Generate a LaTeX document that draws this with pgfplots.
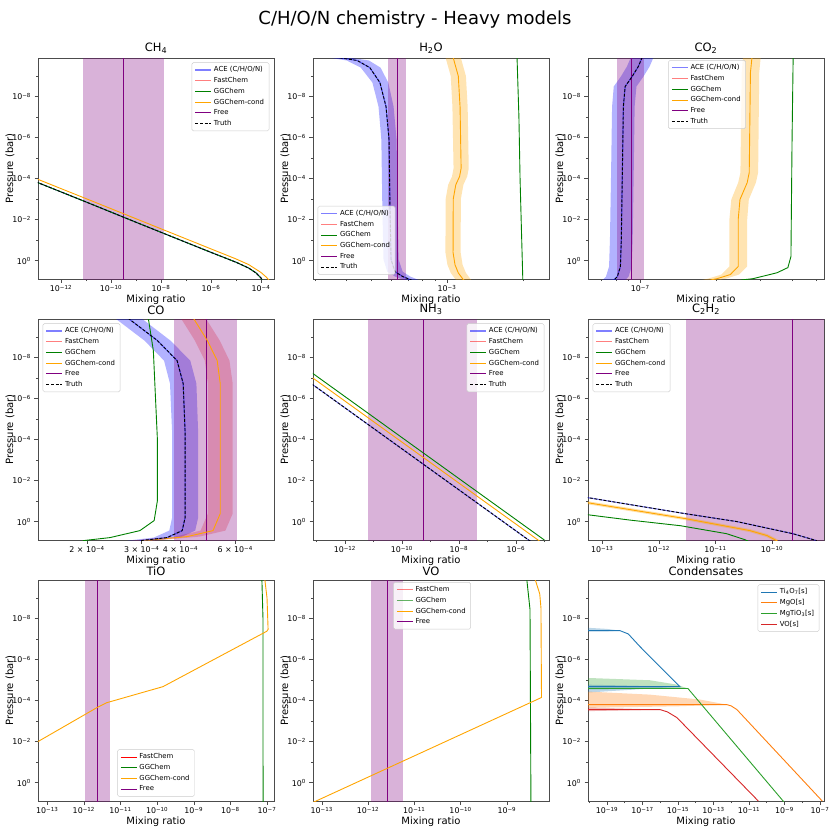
\documentclass[border=0pt]{standalone}
\usepackage{fontspec}
\setmainfont{DejaVu Sans}
\usepackage{pgfplots}
\usepackage{pgfplotstable}
\pgfplotsset{compat=1.18}

\definecolor{mplorange}{HTML}{FFA500}
\definecolor{mplgreen}{HTML}{008000}
\definecolor{mplpurple}{HTML}{800080}
\definecolor{tabblue}{HTML}{1F77B4}
\definecolor{taborange}{HTML}{FF7F0E}
\definecolor{tabgreen}{HTML}{2CA02C}
\definecolor{tabred}{HTML}{D62728}

% log tick labels in the text font: 10^{-n}
\newcommand\logtick{\pgfmathparse{int(round(\tick))}%
  \ifnum\pgfmathresult<0 10\textsuperscript{−\number-\pgfmathresult}\else 10\textsuperscript{\pgfmathresult}\fi}

% common settings for every panel (xmode/ymode are given per axis)
\pgfplotsset{
  width=236pt, height=221pt, scale only axis,
  log basis x=10, log basis y=10,
  y dir=reverse, ymin=1.32e-10, ymax=7.9,
  ytick={1e-8,1e-6,1e-4,1e-2,1},
  minor ytick={1e-9,1e-7,1e-5,1e-3,1e-1},
  xticklabel={\logtick}, yticklabel={\logtick},
  tick label style={font=\fontsize{7.9}{9}\selectfont},
  xticklabel style={yshift=1pt},
  label style={font=\fontsize{9}{10}\selectfont},
  every axis x label/.style={at={(axis description cs:0.5,0)}, anchor=center, yshift=-20.5pt},
  every axis y label/.style={at={(axis description cs:-0.119,0.5)}, anchor=center, rotate=90},
  title style={font=\fontsize{11.5}{13}\selectfont, yshift=-5pt},
  xlabel={Mixing ratio}, ylabel={Pressure (bar)},
  axis line style={black!70, line width=0.6pt},
  tick style={black!70, line width=0.5pt},
  tick align=outside, tick pos=left,
  major tick length=3.5pt, minor tick length=2pt,
  legend cell align=left,
  legend style={font=\fontsize{6.9}{8}\selectfont, draw=black!20,
    rounded corners=1.5pt, fill=white, fill opacity=0.8, text opacity=1},
  legend image code/.code={\draw[#1] (0pt,0pt) -- (16pt,0pt);},
}
\tikzset{
  ace/.style={blue, draw opacity=0.5, line width=1.1pt},
  fast/.style={red, draw opacity=0.5, line width=1.1pt},
  gg/.style={mplgreen, line width=0.9pt},
  ggc/.style={mplorange, line width=0.9pt},
  free/.style={mplpurple, line width=0.9pt},
  truth/.style={black, line width=0.9pt, dash pattern=on 3pt off 1.6pt},
  bandfill/.style={fill=#1, fill opacity=0.3, draw=none},
}

\newcommand\chemlegend{%
  \addlegendimage{ace}\addlegendentry{ACE (C/H/O/N)}
  \addlegendimage{fast}\addlegendentry{FastChem}
  \addlegendimage{gg}\addlegendentry{GGChem}
  \addlegendimage{ggc}\addlegendentry{GGChem-cond}
  \addlegendimage{free}\addlegendentry{Free}
  \addlegendimage{truth}\addlegendentry{Truth}}

% ---- data ----
\pgfplotstableread{
x y
1e-13 1.45e-4
1e-11 1.38e-3
1e-9 1.35e-2
1e-7 0.129
1e-6 0.398
1e-5 1.2
3.16e-5 2.29
6.31e-5 3.98
1e-4 7.08
1.12e-4 8.9
}\chfour
\pgfplotstableread{
x y
3.60e-4 1.2e-10
4.40e-4 1.74e-10
4.94e-4 3.89e-10
5.42e-4 2.09e-9
5.73e-4 3.09e-8
5.89e-4 1.26e-6
5.94e-4 2.34e-3
6.00e-4 0.891
6.22e-4 3.47
6.68e-4 6.03
7.00e-4 7.59
7.24e-4 8.9
}\water
\pgfplotstableread{
x y
1.019e-7 1.2e-10
9.82e-8 3.47e-10
9.29e-8 1.05e-9
8.71e-8 3.24e-9
8.57e-8 3.09e-8
8.49e-8 5.13e-5
8.41e-8 9.55e-2
8.34e-8 1.95
8.11e-8 6.03
7.96e-8 7.59
7.85e-8 8.9
}\cotwo
\pgfplotstableread{
x y
2.71e-4 1.2e-10
3.37e-4 1.48e-9
3.90e-4 1.41e-8
4.08e-4 1.86e-7
4.14e-4 5.13e-5
4.14e-4 0.631
4.05e-4 2.75
3.62e-4 6.03
2.96e-4 8.5
}\co
\pgfplotstableread{
x y
5e-14 1.41e-7
1e-5 28.2
}\nh
\pgfplotstableread{
x y
5e-14 6.46e-2
2.88e-12 0.407
2.40e-11 1.0
2.34e-10 3.89
6.17e-10 8.5
}\ctwo
\pgfplotstableread{
x y
5e-14 0.115
2.88e-12 0.708
4.07e-11 2.75
8.13e-11 4.79
1.12e-10 7.59
1.25e-10 9
}\ctwoorange

\begin{document}
\begin{tikzpicture}
\useasboundingbox (0pt,0pt) rectangle (830pt,-830pt);
\node[font=\fontsize{18}{21}\selectfont] at (415pt,-20pt) {C/H/O/N chemistry - Heavy models};

% ---------------- CH4 ----------------
\begin{axis}[xmode=log, ymode=log, at={(38pt,-58pt)}, anchor=north west, title={CH\textsubscript{4}},
  xmin=1.2e-13, xmax=3.3e-4,
  xtick={1e-12,1e-10,1e-8,1e-6,1e-4}, minor xtick={1e-13,1e-11,1e-9,1e-7,1e-5},
  legend style={at={(0.98,0.98)}, anchor=north east}]
\addplot[bandfill=mplpurple, forget plot] coordinates {(7.6e-12,1e-11)(7.6e-12,100)(1.32e-8,100)(1.32e-8,1e-11)};
\addplot[free, forget plot] coordinates {(3.0e-10,1e-11)(3.0e-10,100)};
\addplot[ggc, forget plot] coordinates {(1e-13,1.0e-4)(1e-11,9.5e-4)(1e-9,9.1e-3)(1e-7,8.7e-2)(1e-6,0.269)(1e-5,0.83)(3.16e-5,1.55)(1e-4,3.8)(1.6e-4,6.3)(2.1e-4,8.9)};
\addplot[ace, forget plot] table {\chfour};
\addplot[gg, forget plot] table {\chfour};
\addplot[truth, forget plot] table {\chfour};
\chemlegend
\end{axis}

% ---------------- H2O ----------------
\begin{axis}[xmode=log, ymode=log, at={(313pt,-58pt)}, anchor=north west, title={H\textsubscript{2}O},
  xmin=2.94e-4, xmax=2.54e-3,
  xtick={1e-3}, minor xtick={3e-4,4e-4,5e-4,6e-4,7e-4,8e-4,9e-4,2e-3},
  legend style={at={(0.02,0.02)}, anchor=south west}]
\addplot[bandfill=blue, forget plot] coordinates {(3.30e-4,1.2e-10)(4.00e-4,1.74e-10)(4.55e-4,3.89e-10)(5.06e-4,2.09e-9)(5.35e-4,3.09e-8)(5.49e-4,1.26e-6)(5.54e-4,2.34e-3)(5.60e-4,0.891)(5.80e-4,3.47)(6.23e-4,6.03)(6.53e-4,7.59)(6.75e-4,8.9)
  (7.76e-4,8.9)(7.50e-4,7.59)(7.16e-4,6.03)(6.67e-4,3.47)(6.43e-4,0.891)(6.37e-4,2.34e-3)(6.31e-4,1.26e-6)(6.14e-4,3.09e-8)(5.85e-4,2.09e-9)(5.45e-4,3.89e-10)(4.90e-4,1.74e-10)(4.00e-4,1.2e-10)};
\addplot[bandfill=mplpurple, forget plot] coordinates {(5.83e-4,1e-11)(5.83e-4,100)(6.87e-4,100)(6.87e-4,1e-11)};
\addplot[free, forget plot] coordinates {(6.34e-4,1e-11)(6.34e-4,100)};
\addplot[bandfill=mplorange, forget plot] coordinates {(0.986e-3,1.2e-10)(1.035e-3,1e-9)(1.051e-3,3.16e-8)(1.062e-3,3.16e-5)(1.047e-3,7.94e-5)(1.011e-3,2e-4)(0.988e-3,1e-3)(0.986e-3,0.398)(1.004e-3,1.585)(1.035e-3,3.98)(1.078e-3,7.94)(1.09e-3,8.9)
  (1.25e-3,8.9)(1.239e-3,7.94)(1.189e-3,3.98)(1.153e-3,1.585)(1.133e-3,0.398)(1.135e-3,1e-3)(1.162e-3,2e-4)(1.203e-3,7.94e-5)(1.220e-3,3.16e-5)(1.208e-3,3.16e-8)(1.189e-3,1e-9)(1.133e-3,1.2e-10)};
\addplot[ggc, forget plot] coordinates {(1.057e-3,1.2e-10)(1.109e-3,1e-9)(1.127e-3,3.16e-8)(1.138e-3,3.16e-5)(1.122e-3,7.94e-5)(1.084e-3,2.0e-4)(1.059e-3,1e-3)(1.057e-3,0.398)(1.076e-3,1.585)(1.109e-3,3.98)(1.156e-3,7.94)(1.17e-3,8.9)};
\addplot[gg, forget plot] coordinates {(1.897e-3,1.2e-10)(1.93e-3,1e-7)(1.95e-3,1e-4)(1.98e-3,0.1)(2.0e-3,8.9)};
\addplot[ace, forget plot] table {\water};
\addplot[truth, forget plot] table {\water};
\chemlegend
\end{axis}

% ---------------- CO2 ----------------
\begin{axis}[xmode=log, ymode=log, at={(588pt,-58pt)}, anchor=north west, title={CO\textsubscript{2}},
  xmin=6.2e-8, xmax=5.37e-7,
  xtick={1e-7}, minor xtick={7e-8,8e-8,9e-8,2e-7,3e-7,4e-7,5e-7},
  legend style={at={(0.34,0.99)}, anchor=north west}]
\addplot[bandfill=blue, forget plot] coordinates {(9.19e-8,1.2e-10)(8.85e-8,3.47e-10)(8.38e-8,1.05e-9)(7.85e-8,3.24e-9)(7.73e-8,3.09e-8)(7.66e-8,5.13e-5)(7.58e-8,9.55e-2)(7.52e-8,1.95)(7.31e-8,6.03)(7.18e-8,7.59)(7.08e-8,8.9)
  (8.71e-8,8.9)(8.83e-8,7.59)(8.99e-8,6.03)(9.25e-8,1.95)(9.33e-8,9.55e-2)(9.42e-8,5.13e-5)(9.50e-8,3.09e-8)(9.66e-8,3.24e-9)(1.030e-7,1.05e-9)(1.089e-7,3.47e-10)(1.130e-7,1.2e-10)};
\addplot[bandfill=mplpurple, forget plot] coordinates {(8.11e-8,1e-11)(8.11e-8,100)(1.037e-7,100)(1.037e-7,1e-11)};
\addplot[free, forget plot] coordinates {(9.21e-8,1e-11)(9.21e-8,100)};
\addplot[bandfill=mplorange, forget plot] coordinates {(2.56e-7,1.2e-10)(2.53e-7,6.76e-10)(2.50e-7,5.13e-5)(2.45e-7,1.58e-4)(2.30e-7,1.05e-3)(2.26e-7,1e-2)(2.26e-7,1.95)(2.10e-7,4.79)(1.86e-7,7.59)(1.75e-7,8.9)
  (2.06e-7,8.9)(2.19e-7,7.59)(2.47e-7,4.79)(2.66e-7,1.95)(2.66e-7,1e-2)(2.70e-7,1.05e-3)(2.88e-7,1.58e-4)(2.94e-7,5.13e-5)(2.97e-7,6.76e-10)(3.01e-7,1.2e-10)};
\addplot[ggc, forget plot] coordinates {(2.78e-7,1.2e-10)(2.74e-7,6.76e-10)(2.71e-7,5.13e-5)(2.66e-7,1.58e-4)(2.49e-7,1.05e-3)(2.45e-7,1e-2)(2.45e-7,1.95)(2.28e-7,4.79)(2.02e-7,7.59)(1.9e-7,8.9)};
\addplot[gg, forget plot] coordinates {(4.05e-7,1.2e-10)(4.01e-7,1.26e-6)(3.97e-7,0.631)(3.86e-7,2.19)(3.50e-7,3.89)(2.81e-7,7.59)(2.51e-7,8.9)};
\addplot[ace, forget plot] table {\cotwo};
\addplot[truth, forget plot] table {\cotwo};
\chemlegend
\end{axis}

% ---------------- CO ----------------
\begin{axis}[xmode=log, ymode=log, at={(38pt,-319pt)}, anchor=north west, title={CO},
  xmin=1.39e-4, xmax=8.0e-4,
  xtick={2e-4,3e-4,4e-4,6e-4},
  xticklabels={2 × 10\textsuperscript{−4}, 3 × 10\textsuperscript{−4}, 4 × 10\textsuperscript{−4}, 6 × 10\textsuperscript{−4}},
  legend style={at={(0.02,0.98)}, anchor=north west}]
\addplot[bandfill=blue, forget plot] coordinates {(2.46e-4,1.2e-10)(3.06e-4,1.48e-9)(3.54e-4,1.41e-8)(3.70e-4,1.86e-7)(3.76e-4,5.13e-5)(3.76e-4,0.631)(3.68e-4,2.75)(3.28e-4,6.03)(2.69e-4,8.5)
  (3.26e-4,8.5)(3.99e-4,6.03)(4.46e-4,2.75)(4.56e-4,0.631)(4.56e-4,5.13e-5)(4.50e-4,1.86e-7)(4.30e-4,1.41e-8)(3.71e-4,1.48e-9)(2.99e-4,1.2e-10)};
\addplot[fill=red, fill opacity=0.22, draw=none, forget plot] coordinates {(4.01e-4,1.2e-10)(4.45e-4,1.48e-9)(4.79e-4,1.41e-8)(4.90e-4,1.86e-7)(4.90e-4,0.407)(4.64e-4,2.75)(3.84e-4,5.37)(2.76e-4,8.5)
  (3.32e-4,8.5)(4.61e-4,5.37)(5.58e-4,2.75)(5.89e-4,0.407)(5.89e-4,1.86e-7)(5.75e-4,1.41e-8)(5.35e-4,1.48e-9)(4.82e-4,1.2e-10)};
\addplot[bandfill=mplpurple, forget plot] coordinates {(3.82e-4,1e-11)(3.82e-4,100)(6.10e-4,100)(6.10e-4,1e-11)};
\addplot[free, forget plot] coordinates {(4.84e-4,1e-11)(4.84e-4,100)};
\addplot[ggc, forget plot] coordinates {(4.40e-4,1.2e-10)(4.88e-4,1.48e-9)(5.25e-4,1.41e-8)(5.37e-4,1.86e-7)(5.37e-4,0.407)(5.09e-4,2.75)(4.21e-4,5.37)(3.03e-4,8.5)};
\addplot[gg, forget plot] coordinates {(3.15e-4,1.2e-10)(3.27e-4,4.57e-9)(3.37e-4,1e-4)(3.37e-4,9.55e-2)(3.29e-4,0.891)(2.96e-4,2.75)(2.37e-4,6.03)(1.94e-4,8.5)};
\addplot[ace, forget plot] table {\co};
\addplot[truth, forget plot] table {\co};
\chemlegend
\end{axis}

% ---------------- NH3 ----------------
\begin{axis}[xmode=log, ymode=log, at={(313pt,-319pt)}, anchor=north west, title={NH\textsubscript{3}},
  xmin=7.6e-14, xmax=1.45e-5,
  xtick={1e-12,1e-10,1e-8,1e-6}, minor xtick={1e-13,1e-11,1e-9,1e-7,1e-5},
  legend style={at={(0.98,0.98)}, anchor=north east}]
\addplot[bandfill=mplpurple, forget plot] coordinates {(6.46e-12,1e-11)(6.46e-12,100)(4.27e-8,100)(4.27e-8,1e-11)};
\addplot[free, forget plot] coordinates {(5.50e-10,1e-11)(5.50e-10,100)};
\addplot[gg, forget plot] coordinates {(5e-14,3.98e-8)(1e-5,7.94)};
\addplot[ggc, forget plot] coordinates {(5e-14,6.61e-8)(1e-5,13.2)};
\addplot[ace, forget plot] table {\nh};
\addplot[truth, forget plot] table {\nh};
\chemlegend
\end{axis}

% ---------------- C2H2 ----------------
\begin{axis}[xmode=log, ymode=log, at={(588pt,-319pt)}, anchor=north west, title={C\textsubscript{2}H\textsubscript{2}},
  xmin=5.6e-14, xmax=8.3e-10,
  xtick={1e-13,1e-12,1e-11,1e-10},
  legend style={at={(0.02,0.98)}, anchor=north west}]
\addplot[bandfill=mplpurple, forget plot] coordinates {(3.02e-12,1e-11)(3.02e-12,100)(1e-8,100)(1e-8,1e-11)};
\addplot[free, forget plot] coordinates {(2.34e-10,1e-11)(2.34e-10,100)};
\addplot[gg, forget plot] coordinates {(5e-14,0.447)(3.16e-13,0.85)(2.40e-12,1.585)(1.58e-11,3.89)(3.31e-11,7.59)(3.8e-11,9)};
\addplot[mplorange, draw opacity=0.35, line width=3pt, forget plot] table {\ctwoorange};
\addplot[ggc, forget plot] table {\ctwoorange};
\addplot[ace, forget plot] table {\ctwo};
\addplot[truth, forget plot] table {\ctwo};
\chemlegend
\end{axis}

% ---------------- TiO ----------------
\begin{axis}[xmode=log, ymode=log, at={(38pt,-580pt)}, anchor=north west, title={TiO},
  xmin=5.6e-14, xmax=1.55e-7,
  xtick={1e-13,1e-12,1e-11,1e-10,1e-9,1e-8,1e-7},
  legend style={at={(0.5,0.02)}, anchor=south}]
\addplot[bandfill=mplpurple, forget plot] coordinates {(1.10e-12,1e-11)(1.10e-12,100)(5.25e-12,100)(5.25e-12,1e-11)};
\addplot[free, forget plot] coordinates {(2.29e-12,1e-11)(2.29e-12,100)};
\addplot[gg, forget plot] coordinates {(7.24e-8,1.2e-10)(7.76e-8,1e-8)(7.8e-8,8.9)};
\addplot[ggc, forget plot] coordinates {(5e-14,1.12e-2)(2.29e-12,2.19e-4)(4.27e-12,1.26e-4)(1.45e-10,2.09e-5)(9.8e-8,4.2e-8)(1.07e-7,3.4e-8)(1.0e-7,1e-9)(8.7e-8,1.2e-10)};
\addlegendimage{red, line width=1pt}\addlegendentry{FastChem}
\addlegendimage{gg}\addlegendentry{GGChem}
\addlegendimage{ggc}\addlegendentry{GGChem-cond}
\addlegendimage{free}\addlegendentry{Free}
\end{axis}

% ---------------- VO ----------------
\begin{axis}[xmode=log, ymode=log, at={(313pt,-580pt)}, anchor=north west, title={VO},
  xmin=6.46e-14, xmax=8.13e-9,
  xtick={1e-13,1e-12,1e-11,1e-10,1e-9},
  legend style={at={(0.34,0.99)}, anchor=north west}]
\addplot[bandfill=mplpurple, forget plot] coordinates {(1.15e-12,1e-11)(1.15e-12,100)(5.62e-12,100)(5.62e-12,1e-11)};
\addplot[free, forget plot] coordinates {(2.57e-12,1e-11)(2.57e-12,100)};
\addplot[gg, forget plot] coordinates {(2.69e-9,1.2e-10)(3.16e-9,3.6e-9)(3.31e-9,8.9)};
\addplot[ggc, forget plot] coordinates {(6e-14,10)(5.6e-9,7.08e-5)(5.45e-9,3e-9)(5.13e-9,6.3e-10)(4.07e-9,1.2e-10)};
\addlegendimage{fast}\addlegendentry{FastChem}
\addlegendimage{mplgreen, draw opacity=0.6, line width=1pt}\addlegendentry{GGChem}
\addlegendimage{ggc}\addlegendentry{GGChem-cond}
\addlegendimage{free}\addlegendentry{Free}
\end{axis}

% ---------------- Condensates ----------------
\begin{axis}[xmode=log, ymode=log, at={(588pt,-580pt)}, anchor=north west, title={Condensates},
  xmin=8.5e-21, xmax=1.7e-7,
  xtick={1e-19,1e-17,1e-15,1e-13,1e-11,1e-9,1e-7},
  minor xtick={1e-20,1e-18,1e-16,1e-14,1e-12,1e-10,1e-8},
  legend style={at={(0.98,0.98)}, anchor=north east}]
\addplot[bandfill=tabblue, forget plot] coordinates {(5e-21,2.75e-8)(1e-19,3.2e-8)(5.37e-19,3.89e-8)(1e-19,4.2e-8)(5e-21,4.27e-8)};
\addplot[bandfill=tabgreen, forget plot] coordinates {(5e-21,7.76e-6)(2.63e-17,1.02e-5)(8.5e-16,1.66e-5)(3.63e-15,2.57e-5)(5e-21,2.88e-5)};
\addplot[bandfill=tabblue, forget plot] coordinates {(5e-21,1.66e-5)(1.29e-15,2.09e-5)(5e-21,4.17e-5)};
\addplot[bandfill=taborange, forget plot] coordinates {(5e-21,3.55e-5)(2.63e-17,5.13e-5)(1.74e-14,8.9e-5)(5.75e-13,1.58e-4)(1e-15,1.9e-4)(5e-21,2.29e-4)};
\addplot[bandfill=tabred, forget plot] coordinates {(5e-21,2.14e-4)(9.77e-17,2.75e-4)(5e-21,3.31e-4)};
\addplot[tabblue, line width=0.9pt] coordinates {(5e-21,3.89e-8)(5.37e-19,3.89e-8)(1.58e-18,5.62e-8)(7.24e-18,2.34e-7)(1.29e-15,2.09e-5)(5e-21,2.09e-5)};
\addlegendentry{Ti\textsubscript{4}O\textsubscript{7}[s]}
\addplot[taborange, line width=0.9pt] coordinates {(5e-21,1.58e-4)(5.75e-13,1.58e-4)(1e-12,1.82e-4)(2.09e-12,2.75e-4)(1.36e-7,7.94)};
\addlegendentry{MgO[s]}
\addplot[tabgreen, line width=0.9pt] coordinates {(5e-21,2.57e-5)(3.63e-15,2.57e-5)(8.5e-10,7.94)(1e-9,9.6)};
\addlegendentry{MgTiO\textsubscript{3}[s]}
\addplot[tabred, line width=0.9pt] coordinates {(5e-21,2.75e-4)(9.77e-17,2.75e-4)(2.51e-16,3.55e-4)(8.7e-16,6.76e-4)(3.39e-11,7.94)};
\addlegendentry{VO[s]}
\end{axis}
\end{tikzpicture}
\end{document}
